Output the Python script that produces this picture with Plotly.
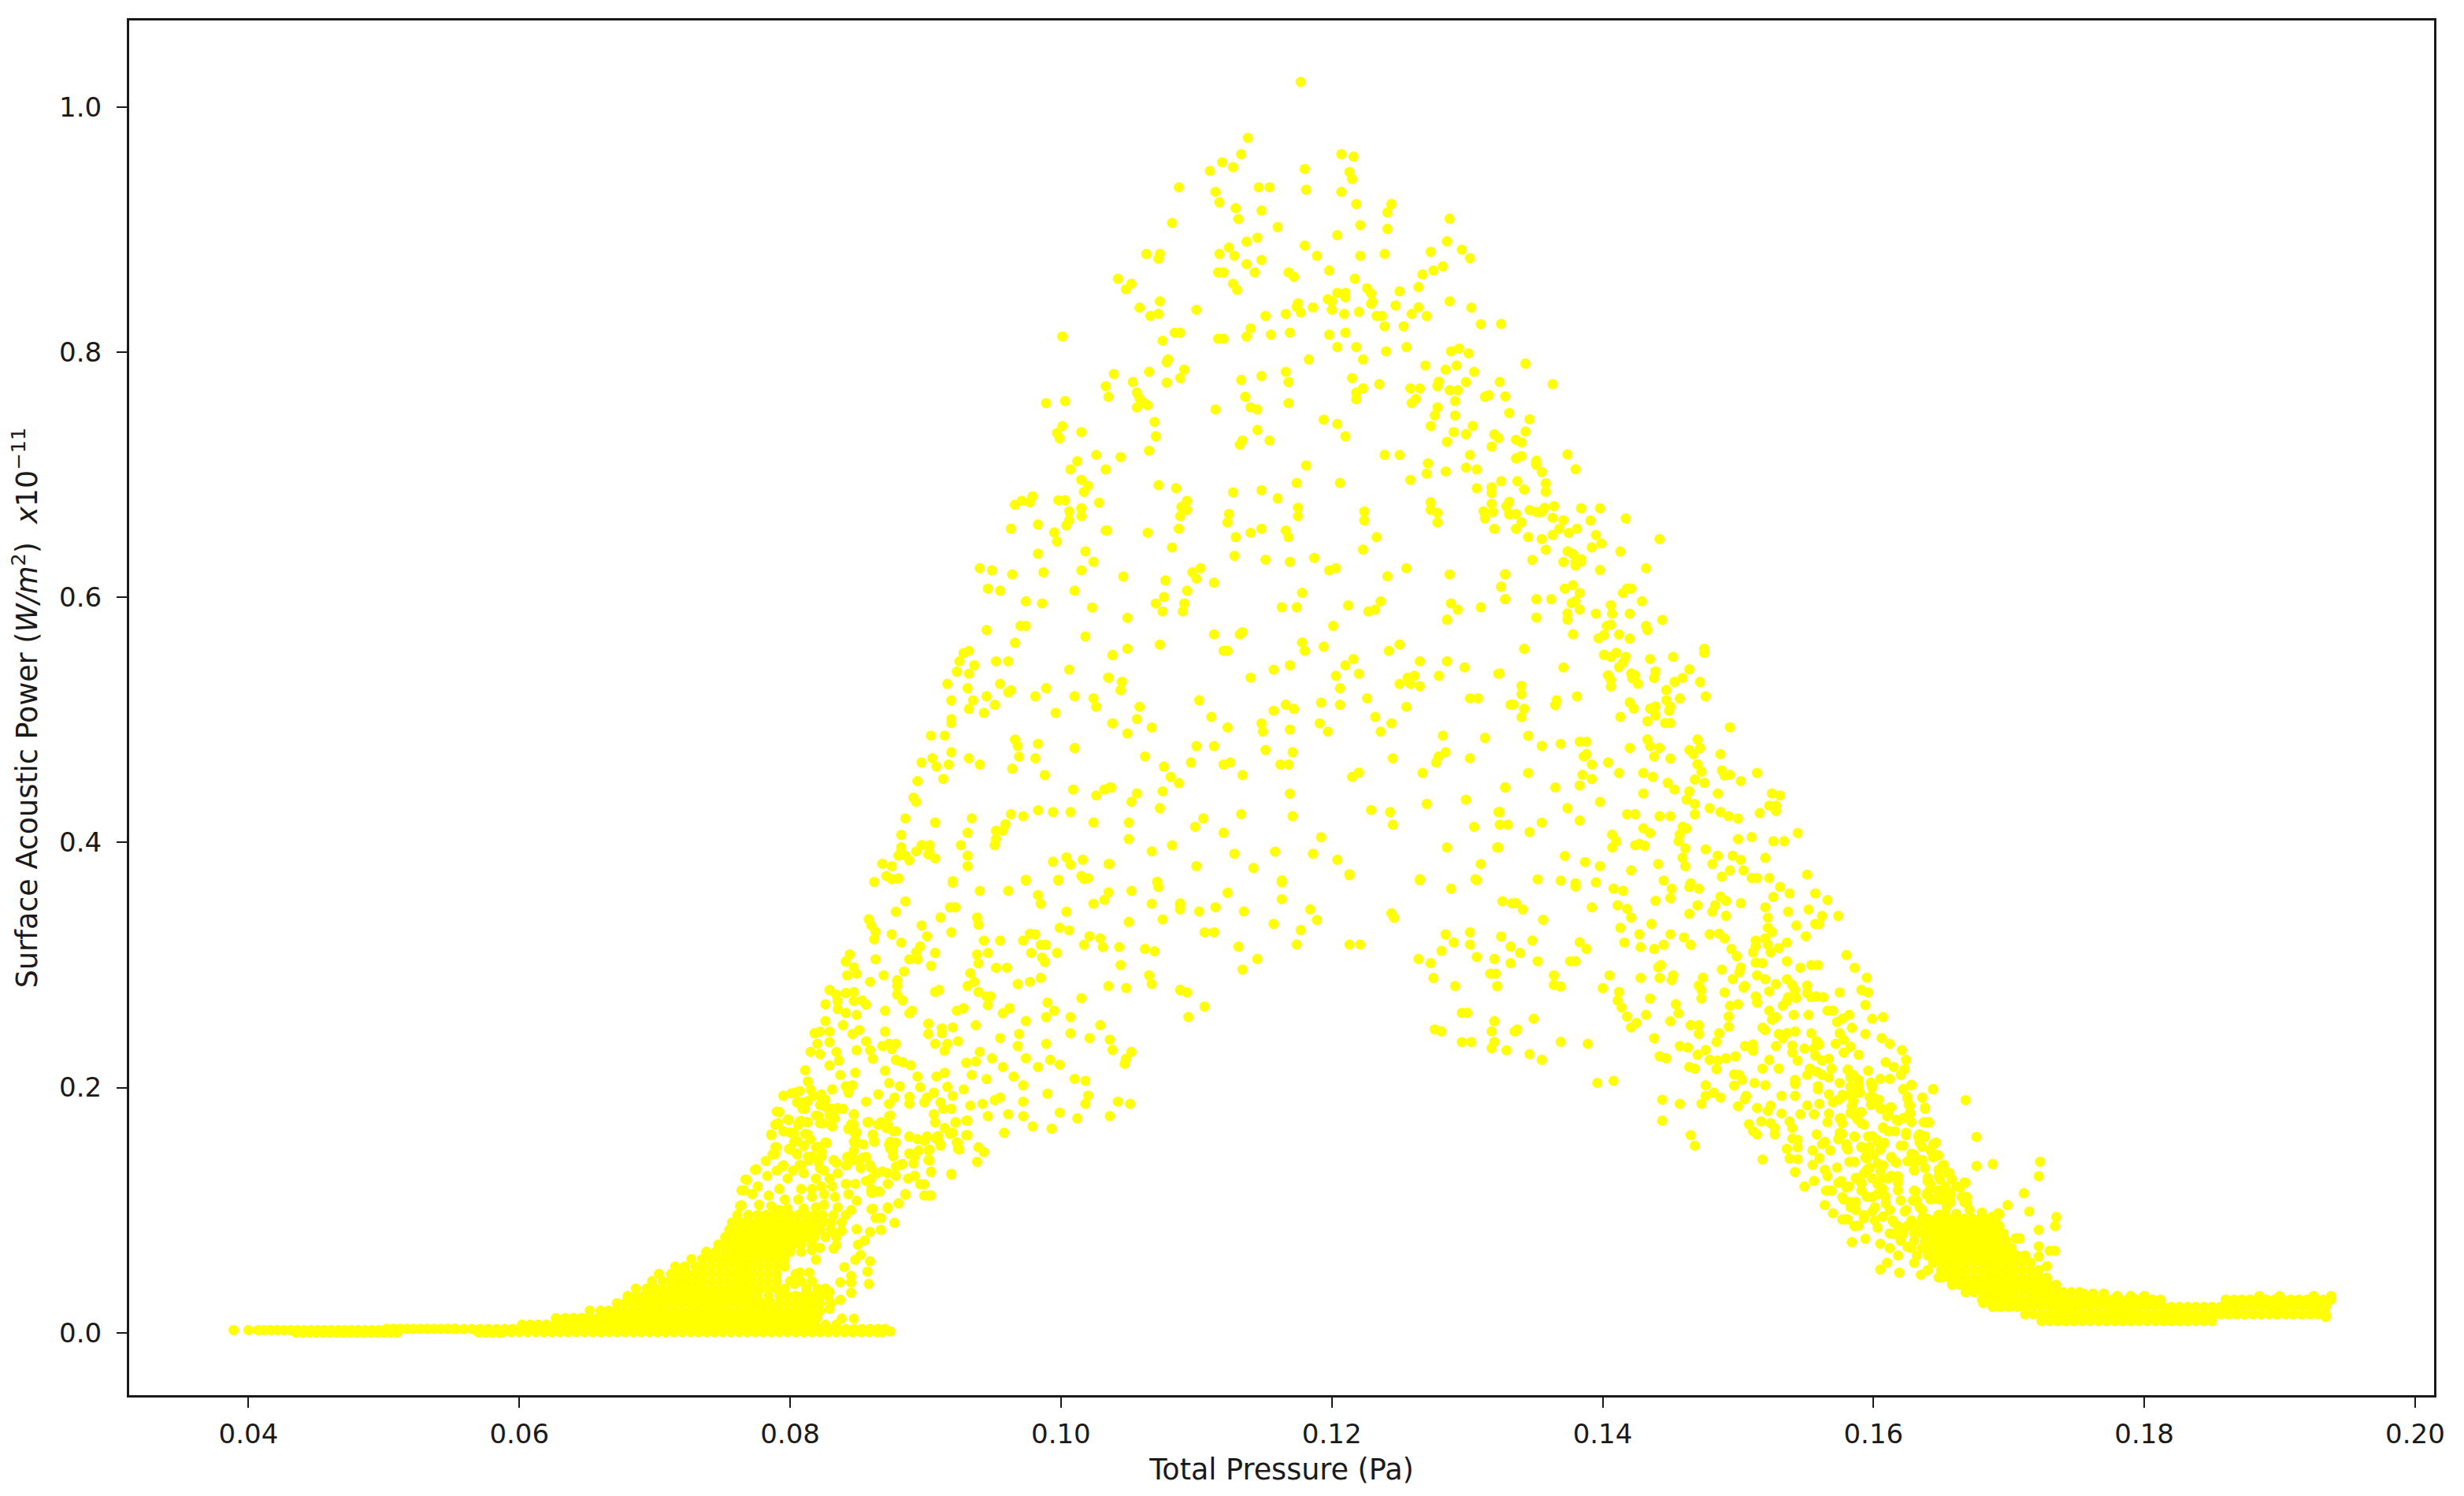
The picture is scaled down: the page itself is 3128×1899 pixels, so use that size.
import plotly.graph_objects as go

x_ticks = [0.04, 0.06, 0.08, 0.10, 0.12, 0.14, 0.16, 0.18, 0.20]
y_ticks = [0.0, 0.2, 0.4, 0.6, 0.8, 1.0]

peak_points = [(.1177,1.0206),(.1138,.975),(.1133,.9616),(.1207,.9616),(.1216,.9596),(.1119,.955),(.1127,.951),(.1110,.948),(.1180,.9496),(.1213,.947),(.1215,.9412),(.1087,.9346),(.1146,.9346),(.1154,.9346),(.1181,.9326),(.1114,.9309),(.1207,.9309),(.1117,.9223),(.1218,.9210),(.1244,.921),(.1129,.9176),(.1148,.9156),(.1241,.9141),(.1131,.9087),(.1287,.9090),(.1082,.9055),(.1160,.9021),(.1221,.9038),(.1241,.9006),(.1204,.8955),(.1145,.8935),(.1137,.8903),(.1285,.8905),(.1180,.887),(.1124,.8854),(.1296,.8837),(.1063,.8802),(.1073,.8802),(.1072,.8763),(.1117,.8802),(.1128,.8787),(.1189,.8787),(.1221,.8787),(.1239,.8802),(.1273,.8819),(.1302,.8768),(.1137,.8719),(.1148,.8753),(.1282,.8701),(.1116,.8652),(.1120,.8652),(.1143,.8652),(.1168,.8652),(.1172,.8615),(.1198,.8667),(.1275,.8667),(.1267,.8635),(.1217,.8600),(.1042,.86),(.1052,.8559),(.1048,.8514),(.1127,.8559),(.1130,.851),(.1226,.8522),(.1229,.848),(.1264,.8532),(.1250,.8497),(.1204,.8485),(.1210,.8485),(.1210,.8448),(.1197,.8433),(.1200,.8416),(.1073,.8416),(.1287,.8416),(.1175,.8399),(.1174,.837),(.1186,.8365),(.1230,.8411),(.1229,.8395),(.1247,.8382),(.1264,.8367),(.1303,.8364),(.1058,.8364),(.1200,.8347),(.1220,.8330),(.1177,.8325),(.1100,.8347),(.1072,.8313),(.1066,.8296),(.1209,.8313),(.1259,.8313),(.1270,.8296),(.1166,.8313),(.1151,.8296),(.1233,.8296),(.1237,.8296),(.1310,.8229),(.1239,.8212),(.1253,.8212),(.1140,.8195),(.1084,.816),(.1088,.816),(.1001,.8128),(.1137,.8128),(.1155,.8143),(.1169,.816),(.1198,.8143),(.1210,.816),(.1116,.811),(.1120,.811),(.1075,.8094),(.1204,.8042),(.1218,.8042),(.1255,.8042),(.1240,.8008),(.1288,.8008),(.1294,.803),(.1301,.7991),(.1183,.7941),(.1079,.7941),(.1078,.7919),(.1223,.7941),(.1269,.7892),(.1292,.7892),(.1284,.7858),(.1039,.7823),(.1065,.784),(.1091,.7858),(.1088,.7789),(.1166,.784),(.1148,.7806),(.1305,.784),(.1053,.7757),(.1078,.7752),(.1133,.7774),(.1168,.7757),(.1215,.7789),(.1235,.774),(.1279,.776),(.1299,.7757),(.1033,.7723),(.1223,.7705),(.1218,.7671),(.1258,.7705),(.1265,.7705),(.1278,.7723),(.1287,.769),(.1293,.769),(.1056,.7671),(.1058,.7624),(.1061,.7587),(.1035,.7637),(.1136,.7637),(.1218,.7617),(.1313,.7637),(.1316,.765),(.1262,.762),(.1259,.7585),(.1064,.7568),(.1056,.755),(.1291,.7602),(.1003,.7602),(.0989,.7585),(.1114,.7533),(.1140,.755),(.1145,.7533),(.1168,.7585),(.1278,.755),(.1276,.7484),(.1291,.7484),(.1069,.7432),(.1194,.745),(.1204,.7415),(.1273,.7398),(.1304,.7398),(.1001,.7398),(.0997,.7341),(.1015,.7349),(.0999,.7297),(.1070,.7314),(.1145,.7366),(.1210,.7314),(.1290,.7349),(.1299,.7332),(.1320,.733),(.1285,.727),(.1134,.728),(.1132,.7246),(.1154,.728),(.1065,.7196),(.1318,.723),(.1026,.7162),(.1044,.7145),(.1012,.7111),(.1007,.7044),(.1033,.7044),(.1239,.7162),(.1250,.7162),(.1302,.7162),(.1271,.7093),(.1270,.701),(.1299,.7059),(.1307,.7044),(.1284,.7027),(.1181,.7076),(.1015,.6958),(.1020,.6909),(.1017,.686),(.1072,.6916),(.1085,.6891),(.1127,.6857),(.1148,.6874),(.1174,.6933),(.1206,.6933),(.1258,.6958),(.1160,.6808),(.1307,.6891),(.1318,.6899),(.1318,.685),(.0979,.6825),(.0971,.6788),(.0977,.6776),(.0966,.6756),(.0998,.6793),(.1003,.6793),(.1028,.6773),(.1093,.6788),(.1089,.6739),(.1273,.6776),(.1318,.6764),(.1312,.6702),(.1175,.6732),(.1006,.6702),(.1015,.6727),(.1278,.669),(.1124,.668),(.1224,.670)]

left_flank_points = [(.0963,.656),(.0983,.6594),(.1006,.663),(.1004,.6587),(.1015,.6662),(.1033,.6545),(.0995,.653),(.0997,.6455),(.0983,.6356),(.1018,.6375),(.1024,.629),(.0940,.6238),(.0949,.6221),(.0964,.6187),(.0987,.6204),(.1015,.6221),(.0946,.6071),(.0955,.6054),(.1010,.6054),(.0974,.5968),(.0986,.5951),(.1023,.5917),(.0945,.5733),(.0970,.5767),(.0974,.5767),(.1018,.5681),(.0966,.563),(.0932,.5563),(.0928,.5546),(.0925,.5478),(.0936,.5446),(.0923,.5394),(.0932,.5377),(.0952,.5478),(.0961,.5478),(.1038,.5529),(.1006,.5411),(.1035,.5345),(.0916,.5294),(.0931,.5259),(.0955,.5294),(.0963,.5242),(.0961,.5225),(.0989,.5259),(.0981,.5193),(.1010,.5193),(.1024,.5176),(.1026,.5107),(.0919,.5159),(.0935,.5159),(.0945,.5193),(.0951,.5124),(.0932,.509),(.0943,.5058),(.0996,.5058),(.0919,.5007),(.0919,.4974),(.1038,.4972),(.0904,.4872),(.0914,.4872),(.0966,.484),(.0968,.4788),(.0983,.4805),(.1010,.477),(.0919,.4737),(.0905,.4687),(.0932,.4687),(.0969,.47),(.0981,.4687),(.0897,.4653),(.0908,.4619),(.0917,.4636),(.0940,.4636),(.0964,.4602),(.0988,.455),(.0894,.4501),(.0913,.4518),(.1009,.4432),(.1032,.4432),(.1037,.4449),(.1026,.4383),(.0891,.4366),(.0893,.4332),(.0885,.4197),(.0934,.4197),(.0907,.4163),(.0963,.4231),(.0972,.4214),(.0983,.4263),(.0994,.4248),(.1007,.4248),(.1024,.4163),(.0959,.4148),(.0957,.4096),(.0952,.4096),(.0931,.4079),(.0882,.4062),(.0952,.4028),(.0951,.3978),(.0926,.3978),(.0897,.3978),(.0903,.3978),(.0882,.3961),(.0893,.3927),(.0882,.3927),(.0903,.3927),(.0880,.3893),(.0885,.3893),(.0902,.3903),(.0907,.3871),(.0888,.3854),(.0931,.3893),(.0931,.3807),(.0868,.3826),(.0875,.3807),(.0994,.3843),(.1004,.3878),(.1007,.3820),(.1016,.3859),(.1035,.3824),(.1015,.3726),(.1020,.3708),(.0974,.3696),(.0998,.3696),(.0920,.3685),(.0871,.3726),(.0880,.3708),(.0875,.37),(.0862,.3678)]

centre_points = [(.1093,.6714),(.1088,.6662),(.1123,.6611),(.1175,.6662),(.1224,.6628),(.1273,.6714),(.1278,.6611),(.1313,.6645),(.1319,.6697),(.1331,.6677),(.1329,.6742),(.1034,.6545),(.1064,.6527),(.1087,.656),(.1148,.656),(.1140,.6527),(.1166,.6545),(.1168,.6491),(.1129,.6491),(.1233,.6491),(.1320,.656),(.1082,.6407),(.1223,.639),(.1128,.6339),(.1151,.6307),(.1169,.629),(.1187,.6322),(.1203,.6238),(.1198,.6221),(.1255,.6238),(.1241,.6172),(.1287,.6187),(.1328,.6187),(.1046,.617),(.1077,.6138),(.1103,.6238),(.1097,.6204),(.1100,.6153),(.1113,.6120),(.1325,.6086),(.1093,.6054),(.1178,.6037),(.1076,.6003),(.1070,.5951),(.1091,.5951),(.1075,.5885),(.1090,.5885),(.1163,.5919),(.1174,.5919),(.1212,.5934),(.1236,.5968),(.1232,.59),(.1227,.5885),(.1288,.5951),(.1293,.59),(.1310,.5919),(.1328,.5985),(.1049,.5833),(.1201,.5767),(.1285,.5818),(.1113,.5698),(.1134,.5716),(.1132,.5698),(.1049,.5581),(.1073,.5615),(.1120,.5563),(.1123,.5563),(.1178,.5632),(.1180,.5563),(.1194,.5598),(.1250,.5615),(.1242,.5563),(.1038,.5529),(.1216,.5497),(.1210,.5446),(.1169,.5446),(.1265,.5478),(.1285,.5478),(.1298,.5428),(.1157,.5411),(.1203,.536),(.1220,.5377),(.1323,.5377),(.1035,.5345),(.1045,.5311),(.1140,.5345),(.1256,.5345),(.1261,.536),(.1279,.536),(.1250,.5294),(.1258,.5294),(.1265,.5276),(.1044,.5242),(.1206,.5259),(.1226,.5176),(.1302,.5176),(.1308,.5176),(.1102,.5159),(.1166,.5124),(.1172,.509),(.1157,.5075),(.1192,.5141),(.1206,.5124),(.1255,.5107),(.1332,.5124),(.1058,.5107),(.1056,.5007),(.1038,.4972),(.1111,.5024),(.1148,.4972),(.1191,.4972),(.1232,.5024),(.1244,.4972),(.1067,.4938),(.1123,.4938),(.1169,.4921),(.1049,.4889),(.1149,.4904),(.1197,.4904),(.1236,.4904),(.1282,.4872),(.1313,.4854),(.1100,.4786),(.1113,.4786),(.1151,.4754),(.1171,.4737),(.1284,.4737),(.1279,.4702),(.1062,.4702),(.1245,.4687),(.1302,.4687),(.1096,.4653),(.1277,.4653),(.1125,.4653),(.1120,.4636),(.1162,.4636),(.1168,.4636),(.1076,.4619),(.1220,.457),(.1215,.4535),(.1134,.455),(.1267,.4567),(.1081,.4535),(.1087,.4484),(.1036,.4449),(.1328,.4449),(.1075,.4417),(.1056,.44),(.1169,.4398),(.1052,.4332),(.1299,.4349),(.1270,.4315),(.1073,.428),(.1229,.4265),(.1243,.4248),(.1323,.4248),(.1133,.4231),(.1171,.4214),(.1105,.4197),(.1050,.4163),(.1245,.4145),(.1330,.4145),(.1099,.4128),(.1305,.4128),(.1120,.4079),(.1192,.4043),(.1050,.4028),(.1082,.3976),(.1285,.3959),(.1322,.3959),(.1067,.3927),(.1158,.3925),(.1128,.3908),(.1186,.3908),(.1204,.3859),(.1310,.3824),(.1036,.3824),(.1100,.3807),(.1142,.3792),(.1213,.3741),(.1163,.369),(.1265,.37),(.1306,.37),(.1071,.368)]

centre_low_points = [(.1163,.3674),(.1213,.3732),(.1265,.3692),(.1307,.3692),(.1288,.3623),(.1123,.3589),(.1163,.3537),(.1326,.3520),(.1333,.3503),(.1088,.3503),(.1088,.3454),(.1114,.3471),(.1102,.3437),(.1135,.3437),(.1184,.3454),(.1189,.3368),(.1244,.3422),(.1246,.3385),(.1157,.3336),(.1106,.3267),(.1113,.3267),(.1177,.3285),(.1302,.3267),(.1284,.325),(.1325,.3233),(.1131,.315),(.1174,.3167),(.1213,.3167),(.1221,.3167),(.1290,.3184),(.1302,.3167),(.1332,.315),(.1281,.3115),(.1145,.3049),(.1264,.3049),(.1307,.3066),(.1320,.3049),(.1273,.3015),(.1332,.3015),(.1134,.2963),(.1317,.2929),(.1321,.2929),(.1275,.2895),(.1291,.2828),(.1322,.2828),(.1088,.2794),(.1093,.2777),(.1106,.2661),(.1094,.2576),(.1296,.2610),(.1300,.261),(.1320,.2541),(.1276,.2475),(.1281,.2458),(.1318,.2458),(.1296,.2372),(.1303,.2372),(.1320,.2372),(.1318,.2321),(.1329,.2304),(.1335,.2458)]

right_upper_points = [(.1325,.8231),(.1343,.7907),(.1324,.7758),(.1363,.7740),(.1328,.7640),(.1331,.7505),(.1346,.7453),(.1343,.7353),(.1336,.7286),(.1340,.7265),(.1323,.7301),(.1374,.7166),(.1340,.7153),(.1336,.7134),(.1351,.7115),(.1351,.7083),(.1355,.7023),(.1380,.7046),(.1325,.6948),(.1337,.6948),(.1358,.6931),(.1342,.688),(.1358,.6862),(.1331,.6779),(.1329,.6744),(.1346,.6712),(.1351,.6697),(.1355,.6697),(.1357,.6729),(.1364,.6744),(.1384,.6727),(.1398,.6727),(.1331,.6680),(.1336,.668),(.1363,.665),(.1417,.6644),(.1371,.6629),(.1391,.6627),(.1340,.6612),(.1336,.6560),(.1368,.656),(.1381,.656),(.1375,.6526),(.1363,.6509),(.1395,.6509),(.1345,.6492),(.1355,.6475),(.1442,.6475),(.1399,.6440),(.1392,.6408),(.1358,.6389),(.1413,.6374),(.1374,.6376),(.1378,.6355),(.1384,.6312)]

right_middle_points = [(.1348,.6306),(.1371,.6289),(.1380,.6291),(.1384,.6291),(.1380,.6259),(.1398,.6223),(.1432,.6238),(.1328,.6189),(.1325,.6088),(.1372,.6071),(.1378,.6099),(.1383,.6036),(.1421,.6071),(.1418,.6071),(.1415,.6036),(.1328,.5985),(.1351,.5985),(.1362,.5985),(.1380,.597),(.1377,.5953),(.1429,.5968),(.1406,.5936),(.1383,.5901),(.1374,.5869),(.1395,.5867),(.1407,.5867),(.1420,.5867),(.1351,.5835),(.1374,.5818),(.1444,.5816),(.1432,.5767),(.1406,.5777),(.1403,.5767),(.1433,.5734),(.1378,.5698),(.1412,.5698),(.1401,.5692),(.1397,.5666),(.1420,.5664),(.1342,.558),(.1475,.558),(.1475,.5548),(.1401,.5531),(.1406,.5514),(.1410,.5548),(.1417,.5514),(.1435,.5497),(.1452,.5514),(.1415,.5467),(.1412,.543),(.1371,.5428),(.1464,.5413),(.1324,.5379),(.1439,.5396),(.1404,.5364),(.1421,.5379),(.1424,.5364),(.1422,.5338),(.1459,.5342),(.1438,.5342),(.1453,.531),(.1472,.531),(.1406,.5327),(.1426,.5295),(.1340,.5278),(.1406,.5272),(.1447,.5244),(.1340,.521),(.1381,.5192),(.1476,.5192),(.1366,.516),(.1457,.5175),(.1447,.516),(.1420,.5143),(.1334,.5126),(.1365,.512),(.1439,.5109),(.1435,.5092),(.1450,.5109),(.1423,.5092),(.1342,.5092),(.1449,.5075),(.1439,.5036),(.1413,.5025),(.1340,.5023),(.1433,.4989),(.1446,.4974),(.1450,.4974),(.1494,.494),(.1345,.4871),(.1433,.4841),(.1470,.4841),(.1383,.4822),(.1388,.4822),(.1369,.4805),(.1355,.4788),(.1435,.4788),(.1442,.4771),(.1420,.4771),(.1464,.4755),(.1472,.4771),(.1467,.4721),(.1487,.4721),(.1388,.4721),(.1386,.4702),(.1438,.4702),(.1450,.4685),(.1404,.4653),(.1470,.4638),(.1392,.4636),(.1473,.4578),(.1345,.4567),(.1412,.4567),(.1430,.4567),(.1514,.4567),(.1488,.4588),(.1385,.4552),(.1490,.4546),(.1494,.4552),(.1437,.4535),(.1392,.4518),(.1502,.4501),(.1468,.4513),(.1448,.4486),(.1475,.4486),(.1383,.4466),(.1328,.4449),(.1365,.4449),(.1453,.4432),(.1464,.4417),(.1430,.44),(.1485,.44),(.1525,.44),(.1531,.4383),(.1398,.4331),(.1462,.4349),(.1468,.4314),(.1523,.43),(.1528,.43),(.1516,.424),(.1374,.428),(.1479,.428),(.1324,.4248),(.1487,.4248),(.1528,.4257),(.1418,.423),(.1424,.423),(.1468,.423),(.1493,.4214),(.1442,.4214),(.1450,.4214),(.1500,.4196),(.1383,.4179),(.1355,.4162),(.1324,.4145),(.1346,.4085),(.1430,.4115),(.1459,.4128),(.1462,.4115),(.1435,.4077),(.1407,.4064),(.1544,.4077),(.1500,.4027),(.1510,.4044),(.1526,.401),(.1534,.401),(.1457,.4064),(.1456,.401),(.1410,.401),(.1427,.3988),(.1424,.3977),(.1431,.3973),(.1407,.3959),(.1323,.3959),(.1461,.3952),(.1476,.3944),(.1485,.3892),(.1372,.3890),(.1496,.3892),(.1502,.3858),(.1520,.3875),(.1459,.3875),(.1387,.3841),(.1481,.3824),(.1398,.3807),(.1441,.3824),(.1461,.3807),(.1421,.3772),(.1494,.3772),(.1504,.3772),(.1488,.3721),(.1551,.3738),(.1352,.3699),(.1369,.3689),(.1523,.371),(.1510,.371),(.1514,.371),(.1445,.3689),(.1395,.3674),(.1380,.3667),(.1465,.3667)]

left_lower_points = [(.0920,.3671),(.0940,.3605),(.0961,.3605),(.0974,.3689),(.0998,.3689),(.1017,.3702),(.1072,.3637),(.1052,.3605),(.0983,.3571),(.1035,.3592),(.1032,.3532),(.0985,.35),(.1024,.35),(.1067,.35),(.1088,.3492),(.0885,.3519),(.0918,.3471),(.0922,.3471),(.1004,.3435),(.0878,.3435),(.0911,.3388),(.0938,.3388),(.1075,.3372),(.1050,.3351),(.0858,.3374),(.0860,.3322),(.0897,.3322),(.0939,.333),(.0999,.3304),(.1006,.3283),(.0863,.3270),(.0919,.3267),(.0875,.3251),(.0901,.3235),(.0977,.3256),(.1021,.3235),(.0862,.3209),(.0943,.3199),(.0955,.3199),(.0972,.3199),(.0981,.3251),(.0882,.3183),(.1029,.3217),(.1017,.3165),(.0989,.3165),(.0985,.3165),(.1031,.3146),(.1043,.3146),(.1062,.3131),(.1069,.3112),(.0896,.3152),(.0893,.3104),(.0907,.3099),(.0938,.3086),(.0946,.3099),(.0978,.3099),(.0997,.3099),(.0986,.3060),(.0988,.3026),(.0844,.3086),(.0863,.3047),(.0841,.3028),(.0888,.3047),(.0894,.3047),(.0939,.3013),(.0904,.2994),(.1044,.2999),(.0952,.2978),(.0960,.2978),(.0847,.2981),(.0933,.2934),(.0884,.2947),(.0849,.2929),(.0842,.2916),(.0869,.2916),(.1065,.2916),(.0985,.2895),(.0936,.2863),(.0879,.2876),(.0859,.2863),(.0977,.2863),(.0968,.2845),(.1067,.2845),(.0931,.2829),(.0879,.2829),(.1035,.2829),(.1048,.2813),(.1088,.2797),(.0829,.2797),(.0939,.278),(.0841,.2771),(.0907,.278),(.0910,.2797),(.0879,.2758),(.0834,.2758),(.0847,.278),(.0945,.2745),(.0948,.2745),(.1015,.2729),(.0883,.2711),(.0853,.2711),(.0847,.2706),(.0835,.2706),(.0990,.2693),(.0946,.2672),(.0826,.2680),(.0856,.2677),(.0835,.2640),(.0928,.2648),(.0923,.2627),(.0962,.2648),(.0995,.2627),(.0870,.2627),(.0957,.2606),(.0841,.2609),(.0890,.2627),(.0888,.2606),(.0849,.2593),(.0989,.2575),(.1007,.2575),(.0826,.2543),(.0974,.2543),(.0902,.2522),(.0937,.2509),(.1029,.2509),(.0839,.2509),(.0912,.2483),(.0920,.2491),(.0818,.2443),(.0829,.2457),(.0822,.2457),(.0851,.247),(.0870,.2457),(.0969,.2438),(.1007,.2443),(.0902,.2438),(.0846,.2438),(.0912,.2443),(.0955,.2404),(.1021,.2404),(.1036,.2391),(.0924,.2378),(.0856,.2378),(.0829,.2370),(.0873,.2357),(.0878,.2357),(.0916,.2357),(.0907,.2357),(.0820,.2357),(.0989,.2357),(.0868,.2339),(.0968,.2339),(.0875,.2312),(.0849,.2305),(.0859,.2305),(.0914,.23),(.1038,.2307),(.1052,.2291),(.0815,.2291),(.0822,.2273),(.0834,.2291),(.0940,.2291),(.0949,.2239),(.0974,.2239),(.0861,.2234),(.0878,.2226),(.1048,.2234),(.0992,.2226),(.0836,.2221),(.0883,.2207),(.0930,.2202),(.0937,.2213),(.0889,.2181),(.0999,.2187),(.1047,.2194),(.0829,.2181),(.0957,.2168),(.0983,.2168),(.0811,.2142),(.0870,.2137),(.0848,.2121),(.0914,.2121),(.0908,.2090),(.0837,.2103),(.0894,.209),(.0934,.2103),(.0965,.209),(.0945,.2069),(.1010,.2071),(.1018,.2055),(.0813,.2050),(.0873,.2037),(.0972,.2019),(.0881,.2011),(.0841,.2011),(.0846,.2019),(.0896,.2003),(.0916,.2006),(.0831,.1985),(.0928,.1985),(.0843,.1958),(.0815,.1985),(.0804,.1958),(.0795,.1932),(.0865,.1945),(.0906,.1958),(.0901,.1919),(.0920,.1932),(.0990,.1951),(.1020,.1935),(.0955,.1919),(.0951,.1898),(.0822,.1932),(.0877,.1919),(.0888,.1924),(.0805,.1880),(.0810,.188),(.0856,.1885),(.0899,.188),(.0942,.1867),(.0911,.188),(.0972,.1885),(.0873,.1867),(.0933,.1854),(.1042,.1885),(.1018,.1867),(.1051,.1867),(.0824,.1854),(.0835,.1833),(.0809,.1827),(.0831,.1827),(.0919,.1827),(.0888,.1867),(.0913,.1827),(.0792,.1801),(.0847,.1783),(.0906,.1783),(.0873,.1767),(.0821,.1767),(.0946,.1767),(.0961,.1783),(.0972,.1767),(.0999,.1796),(.0829,.1775),(.0799,.1736),(.0931,.1730),(.1012,.1749),(.1036,.1767),(.0791,.1709),(.0813,.1717),(.0807,.1723),(.0824,.1709),(.0831,.1683),(.0867,.1717),(.0857,.1717),(.0907,.1717),(.0922,.1717),(.0845,.1701),(.0843,.1662),(.0871,.1670),(.0914,.1670),(.0979,.1683),(.0993,.1665),(.0795,.1644),(.0786,.1618),(.0803,.1631),(.0849,.1631),(.0878,.1644),(.0931,.1612),(.0958,.1631),(.0861,.1618),(.0888,.1599),(.0909,.1604),(.0813,.1618),(.0920,.1631),(.0878,.1552),(.0899,.1565),(.0908,.1578),(.0923,.1552),(.0939,.1513),(.0943,.1474),(.0924,.15),(.0874,.1500),(.0862,.1565),(.0849,.1552),(.0826,.1552),(.0819,.1513),(.0790,.1513),(.0789,.1460),(.0805,.1565),(.0810,.1526),(.0799,.15),(.0805,.146),(.0876,.1447),(.0888,.1460),(.0902,.1487),(.0911,.1526),(.0895,.1487),(.0847,.1487),(.0823,.1474),(.0782,.1400),(.0842,.1434),(.0856,.1434),(.0813,.1434),(.0938,.1395),(.0832,.1408),(.0851,.1408),(.0903,.1408),(.0919,.1290),(.0904,.1316),(.0774,.1329),(.0794,.1355),(.0807,.1368),(.0822,.1342),(.0842,.1368),(.0859,.1368),(.0881,.1368),(.0891,.1381),(.0868,.1316),(.0896,.1211),(.0899,.1119),(.0903,.1119),(.0885,.1127),(.0880,.1054),(.0872,.1015),(.0860,.1007),(.0867,.0936),(.0877,.0896),(.0863,.0936),(.0859,.0823),(.0867,.0839),(.0855,.0752),(.0850,.0718),(.0852,.0634),(.0848,.0595),(.0859,.0582),(.0857,.0498),(.0840,.0535),(.0845,.0464),(.0845,.0411),(.0858,.0398),(.0845,.0325),(.0837,.0411),(.0837,.0267),(.0829,.0333),(.0829,.0194),(.0838,.0115),(.0847,.0115),(.0814,.049),(.0807,.049),(.0803,.0398),(.0822,.0692),(.0816,.0674),(.0819,.0595),(.0834,.0713),(.0832,.0687),(.0832,.0818),(.0838,.0831),(.0849,.0844)]

left_dense_points = [(.0795,.1933),(.0801,.1954),(.0807,.1971),(.0806,.1879),(.0811,.1879),(.0813,.1890),(.0811,.1826),(.0817,.1933),(.0823,.1944),(.0826,.1901),(.0822,.1858),(.0827,.1836),(.0831,.1794),(.0839,.1826),(.0833,.1751),(.0790,.1804),(.0789,.1697),(.0798,.1740),(.0806,.1697),(.0808,.1729),(.0812,.1719),(.0819,.1772),(.0822,.1708),(.0830,.1697),(.0847,.1783),(.0843,.1665),(.0847,.1697),(.0848,.1622),(.0847,.1558),(.0858,.1719),(.0865,.1697),(.0872,.1697),(.0876,.1644),(.0874,.1772),(.0786,.1612),(.0795,.1644),(.0800,.1633),(.0811,.1622),(.0815,.1579),(.0810,.1526),(.0803,.1558),(.0789,.1515),(.0787,.1455),(.0800,.1494),(.0805,.1455),(.0821,.1515),(.0827,.1547),(.0823,.1440),(.0816,.1429),(.0834,.1387),(.0845,.1440),(.0854,.1536),(.0861,.1612),(.0862,.1558),(.0854,.1429),(.0874,.1558),(.0876,.1494),(.0876,.1440),(.0873,.1536),(.0888,.1601),(.0894,.1579),(.0901,.1601),(.0909,.159),(.0918,.1622),(.0911,.1536),(.0903,.1494),(.0888,.1462),(.0892,.1440),(.0902,.1408),(.0883,.1376),(.0878,.1355),(.0872,.1301),(.0872,.1215),(.0878,.1280),(.0887,.1258),(.0892,.128),(.0904,.1312),(.0899,.1211),(.0919,.1297),(.0885,.1130),(.0880,.1055),(.0904,.1119),(.0872,.1023),(.0861,.1012),(.0865,.1151),(.0860,.1140),(.0922,.1714),(.0930,.1729),(.0930,.1612),(.0924,.1547),(.0925,.1494),(.0775,.1333),(.0783,.1280),(.0768,.1247),(.0776,.1194),(.0764,.1162),(.0772,.1130),(.0777,.1044),(.0784,.1119),(.0763,.1033),(.0790,.1322),(.0795,.1365),(.0798,.1258),(.0792,.1172),(.0802,.1322),(.0808,.1365),(.0816,.1440),(.0810,.1301),(.0814,.1408),(.0821,.1387),(.0825,.1322),(.0819,.1258),(.0829,.1258),(.0835,.1301),(.0841,.1365),(.0847,.1408),(.0852,.1344),(.0860,.1344),(.0864,.1301),(.0860,.1258),(.0808,.1172),(.0816,.1172),(.0823,.1194),(.0831,.1194),(.0841,.1215),(.0848,.1215),(.0856,.1237),(.0860,.1172),(.0866,.1151),(.0786,.1033),(.0796,.1087),(.0806,.1087),(.0816,.1108),(.0825,.1130),(.0833,.1108),(.0843,.1130),(.0849,.1076),(.0825,.1044),(.0835,.1023),(.0845,.1001),(.0798,.1012),(.0810,.1012),(.0819,.1023),(.0792,.1001),(.0766,.1159),(.0767,.125),(.0764,.104)]

right_lower_points = [(.1380,.364),(.1408,.3623),(.1415,.3605),(.1451,.3623),(.1464,.3637),(.1471,.3623),(.1450,.3545),(.1336,.3505),(.1341,.3453),(.1392,.3471),(.1411,.3487),(.1418,.3458),(.1439,.3524),(.1470,.3487),(.1464,.3419),(.1487,.3558),(.1491,.3524),(.1483,.3487),(.1481,.3435),(.1491,.3401),(.1502,.3505),(.1526,.3555),(.1531,.3637),(.1538,.3584),(.1557,.3584),(.1566,.353),(.1520,.3471),(.1537,.3435),(.1552,.3453),(.1522,.3387),(.1562,.3401),(.1574,.3401),(.1356,.3369),(.1421,.3387),(.1436,.3335),(.1557,.3335),(.1543,.3322),(.1560,.3335),(.1413,.3304),(.1522,.3304),(.1525,.327),(.1427,.3251),(.1450,.3251),(.1460,.3225),(.1479,.3251),(.1486,.3256),(.1490,.3217),(.1348,.3199),(.1383,.3186),(.1416,.3183),(.1550,.3235),(.1520,.3217),(.1513,.3199),(.1465,.3165),(.1388,.3131),(.1428,.3146),(.1438,.3131),(.1445,.3165),(.1536,.3183),(.1513,.3152),(.1530,.3138),(.1522,.3165),(.1495,.3131),(.1511,.3104),(.1524,.3104),(.1339,.3099),(.1580,.3081),(.1499,.3073),(.1352,.3031),(.1376,.3031),(.1380,.3031),(.1536,.3031),(.1513,.3020),(.1518,.3015),(.1443,.2999),(.1441,.2981),(.1546,.2978),(.1554,.2999),(.1559,.2999),(.1586,.2978),(.1502,.2981),(.1488,.2963),(.1501,.2942),(.1364,.2916),(.1405,.2916),(.1428,.2895),(.1452,.2916),(.1474,.2897),(.1442,.2895),(.1451,.2876),(.1595,.2897),(.1496,.2884),(.1514,.2916),(.1520,.2884),(.1536,.2884),(.1364,.2837),(.1369,.2824),(.1528,.2845),(.1471,.2832),(.1505,.2829),(.1504,.2816),(.1540,.2837),(.1551,.2832),(.1542,.2797),(.1400,.2811),(.1591,.2797),(.1596,.2777),(.1575,.2777),(.1473,.2797),(.1412,.278),(.1490,.2777),(.1523,.2785),(.1551,.2771),(.1554,.2737),(.1563,.2737),(.1558,.2745),(.1543,.2732),(.1537,.2737),(.1435,.2727),(.1473,.2727),(.1513,.2745),(.1411,.2711),(.1514,.2693),(.1454,.268),(.1500,.268),(.1494,.2667),(.1414,.2653),(.1533,.2667),(.1594,.2674),(.1536,.2706),(.1566,.2627),(.1570,.2627),(.1523,.2627),(.1456,.2606),(.1528,.2575),(.1493,.2580),(.1541,.2593),(.1552,.2593),(.1582,.2593),(.1349,.2561),(.1418,.258),(.1432,.2593),(.1607,.2575),(.1599,.2561),(.1525,.2554),(.1577,.2561),(.1573,.2535),(.1450,.2541),(.1425,.2528),(.1421,.2491),(.1465,.2509),(.1471,.2509),(.1493,.2496),(.1518,.2488),(.1520,.2470),(.1542,.2457),(.1536,.2443),(.1584,.2488),(.1337,.2475),(.1486,.2443),(.1471,.2438),(.1530,.2438),(.1554,.2443),(.1575,.2443),(.1594,.2438),(.1533,.2404),(.1438,.2404),(.1558,.2378),(.1578,.2391),(.1606,.2404),(.1369,.2373),(.1389,.2357),(.1484,.2373),(.1540,.2344),(.1612,.2357),(.1505,.2339),(.1511,.2352),(.1528,.2339),(.1560,.2352),(.1572,.2357),(.1457,.2339),(.1463,.2326),(.1549,.2318),(.1556,.2318),(.1583,.2334),(.1476,.2307),(.1511,.23),(.1621,.2305),(.1346,.2273),(.1578,.2286),(.1589,.2268),(.1470,.2268),(.1540,.2286),(.1557,.226),(.1498,.2255),(.1442,.2255),(.1447,.2239),(.1491,.2239),(.1355,.2226),(.1479,.2226),(.1485,.2221),(.1523,.2226),(.1544,.2221),(.1562,.2221),(.1567,.2234),(.1624,.2226),(.1609,.2207),(.1484,.2150),(.1518,.2155),(.1530,.2155),(.1464,.2168),(.1468,.2155),(.1569,.2155),(.1615,.2168),(.1623,.215),(.1581,.2142),(.1553,.2155),(.1558,.2129),(.1596,.2137),(.1497,.2108),(.1501,.2103),(.1562,.2103),(.1551,.2103),(.1585,.2103),(.1620,.2103),(.1503,.2063),(.1542,.2063),(.1567,.2082),(.1589,.2063),(.1605,.2071),(.1612,.2071),(.1396,.2037),(.1408,.2055),(.1476,.2019),(.1512,.2037),(.1520,.2019),(.1497,.2016),(.1542,.2029),(.1575,.2037),(.1589,.2024),(.1599,.2024),(.1559,.2011),(.1589,.1985),(.1622,.1985),(.1559,.1985),(.1567,.1945),(.1482,.1958),(.1583,.1945),(.1590,.1958),(.1476,.1932),(.1487,.1919),(.1506,.1932),(.1532,.1932),(.1542,.1932),(.1577,.194),(.1600,.1919),(.1636,.1919),(.1625,.1924),(.1444,.1901),(.1457,.1867),(.1473,.1867),(.1505,.1906),(.1560,.1867),(.1570,.1880),(.1585,.1893),(.1599,.1867),(.1627,.1854),(.1500,.1848),(.1524,.1854),(.1551,.1854),(.1613,.1840),(.1638,.1827),(.1514,.1833),(.1522,.1809),(.1591,.1801),(.1605,.1827),(.1627,.1788),(.1567,.1788),(.1532,.1788),(.1546,.1783),(.1556,.1783),(.1585,.1783),(.1575,.1749),(.1610,.1767),(.1444,.1730),(.1517,.1723),(.1538,.1723),(.1566,.1717),(.1617,.1736),(.1637,.1717),(.1641,.1717),(.1508,.1701),(.1524,.1709),(.1591,.1709),(.1607,.1670),(.1577,.1709),(.1511,.1644),(.1527,.1670),(.1540,.167),(.1465,.1612),(.1575,.1631),(.1558,.1618),(.1586,.1599),(.1624,.1631),(.1514,.1618),(.1527,.1618),(.1599,.1604),(.1611,.1644),(.1634,.1618),(.1638,.1604),(.1540,.1584),(.1544,.1573),(.1564,.1557),(.1574,.1578),(.1646,.1552),(.1468,.1526),(.1562,.1539),(.1580,.1513),(.1591,.1513),(.1603,.1557),(.1622,.1526),(.1634,.1552),(.1544,.1513),(.1536,.15),(.1555,.1487),(.1568,.1487),(.1595,.1474),(.1642,.1487),(.1648,.1447),(.1628,.1460),(.1613,.1434),(.1518,.1413),(.1538,.1421),(.1544,.1416),(.1560,.1426),(.1582,.1395),(.1586,.1395),(.1595,.1421),(.1635,.1408),(.1616,.1395),(.1555,.1369),(.1603,.1381),(.1630,.1381),(.1652,.1369),(.1564,.1329),(.1573,.1347),(.1595,.1329),(.1542,.1311),(.1630,.1329),(.1648,.1329),(.1605,.1316),(.1656,.1303),(.1566,.1277),(.1618,.1277),(.1587,.1264),(.1556,.1238),(.1611,.1264),(.1640,.1264),(.1648,.1277),(.1658,.1251),(.1549,.1193),(.1574,.1224),(.1591,.1224),(.1603,.1211),(.1618,.1224),(.1668,.1224),(.1664,.1185),(.1642,.1211),(.1580,.1185),(.1565,.1159),(.1569,.1159),(.1591,.1159),(.1630,.1159),(.1607,.1172),(.1648,.1159),(.1656,.1146),(.1577,.1106),(.1599,.1106),(.1632,.1080),(.1669,.1106),(.1644,.1093),(.1654,.1106),(.1564,.1041),(.1583,.1067),(.1609,.1054),(.1620,.1080),(.1669,.1054),(.1570,.0975),(.1587,.1001),(.1599,.0988),(.1636,.1001),(.1623,.0988),(.1654,.1029),(.1577,.0923),(.1581,.0923),(.1593,.0936),(.1607,.0949),(.1648,.0962),(.1586,.0870),(.1603,.0857),(.1636,.0897),(.1615,.0897),(.1594,.0766),(.1584,.074),(.1605,.0726),(.1625,.0700),(.1615,.0805),(.1669,.0752),(.1605,.0516),(.1619,.049),(.1635,.0472),(.1648,.0451),(.1681,.0241),(.1691,.0215),(.1668,.1898),(.1676,.1597),(.1676,.1361),(.1688,.1376),(.1723,.1395),(.1722,.1277),(.1711,.1138),(.1699,.1041),(.1692,.0975),(.1715,.0988),(.1735,.0944),(.1734,.087),(.1722,.0839),(.1705,.077),(.1708,.077),(.1722,.0705),(.1730,.0668),(.1734,.0668),(.1722,.0621),(.1728,.0543),(.1644,.1985),(.1628,.2019)]

right_dense_points = [(.1581,.2148),(.1583,.2083),(.1589,.2051),(.1583,.2008),(.1588,.1965),(.1577,.1923),(.1584,.1923),(.1574,.1901),(.1598,.204),(.1599,.1998),(.1597,.1923),(.1604,.1901),(.1598,.1858),(.1606,.1826),(.1612,.1837),(.1611,.1783),(.1584,.1848),(.1583,.1794),(.1590,.1794),(.1588,.1741),(.1593,.1698),(.1576,.1751),(.1577,.1623),(.1575,.1601),(.1580,.1537),(.1581,.1494),(.1586,.1601),(.1607,.1676),(.1612,.1644),(.1618,.173),(.1622,.1751),(.1616,.1644),(.1624,.1612),(.1628,.1719),(.1627,.1794),(.1626,.1858),(.1625,.1912),(.1622,.1987),(.1628,.2023),(.1638,.1837),(.1639,.1715),(.1636,.1918),(.1644,.1987),(.1693,.0969),(.1667,.1226),(.1596,.1601),(.1603,.1569),(.1608,.1548),(.1591,.1516),(.1597,.1516),(.1605,.1494),(.1600,.1451),(.1594,.143),(.1620,.1526),(.1613,.143),(.1617,.1387),(.1611,.1259),(.1618,.1259),(.1607,.1366),(.1597,.1344),(.1606,.1259),(.1587,.1259),(.1591,.1216),(.1593,.1301),(.1599,.1259),(.1633,.1601),(.1638,.1601),(.1644,.1537),(.1636,.1516),(.1630,.1451),(.1625,.1398),(.1630,.1323),(.1636,.1409),(.1644,.143),(.1647,.1451),(.1638,.1344),(.1651,.1366),(.1655,.1301),(.1649,.1248),(.1640,.1237),(.1642,.1173),(.1653,.1194),(.1661,.1194),(.1649,.1152),(.1657,.1130),(.1665,.1109),(.1667,.1066),(.1657,.1066),(.1649,.1087),(.1642,.1087),(.1653,.0972),(.1639,.1130),(.1576,.1237),(.1582,.1194),(.1587,.1259),(.1578,.1087),(.1587,.1066),(.1595,.1109),(.1603,.113),(.1613,.1280),(.1618,.1162),(.1609,.1109),(.1631,.1152),(.1629,.1077),(.1634,.1023),(.1583,.1023),(.1593,.0959),(.1601,.1023),(.1612,.1002),(.1624,.1002),(.1636,.0937),(.1601,.0916),(.1614,.0916),(.1628,.0916),(.1644,.0916),(.1580,.0927),(.1589,.0873),(.1661,.0970),(.1671,.1002),(.1680,.0980),(.1688,.0948)]

left_mass_rows = [
 (.096,[.0761,.0769,.0776,.0782,.0788,.0794,.0800,.0806,.0812,.0818,.0824,.0832,.0841]),
 (.090,[.0757,.0764,.0770,.0776,.0782,.0788,.0794,.0800,.0806,.0812,.0818,.0824,.0830,.0838]),
 (.084,[.0755,.0762,.0768,.0774,.0780,.0786,.0792,.0798,.0804,.0810,.0816,.0822,.0830]),
 (.078,[.0752,.0758,.0764,.0770,.0776,.0782,.0788,.0794,.0800,.0806,.0812,.0818,.0826,.0834]),
 (.072,[.0747,.0754,.0760,.0766,.0772,.0778,.0784,.0790,.0796,.0802,.0808,.0816]),
 (.066,[.0738,.0745,.0752,.0758,.0764,.0770,.0776,.0782,.0788,.0794,.0800,.0808]),
 (.060,[.0727,.0735,.0742,.0748,.0754,.0760,.0766,.0772,.0778,.0784,.0790,.0796]),
 (.054,[.0715,.0722,.0730,.0736,.0742,.0748,.0754,.0760,.0766,.0772,.0778,.0784,.0790,.0796]),
 (.048,[.0703,.0712,.0718,.0724,.0730,.0736,.0742,.0748,.0754,.0760,.0766,.0772,.0778,.0784,.0790,.0804]),
 (.042,[.0698,.0706,.0712,.0718,.0724,.0730,.0736,.0742,.0748,.0754,.0760,.0766,.0772,.0778,.0784,.0790,.0800,.0808,.0816]),
 (.036,[.0686,.0694,.0700,.0706,.0712,.0718,.0724,.0730,.0736,.0742,.0748,.0754,.0760,.0766,.0772,.0778,.0784,.0790,.0796,.0812,.0820,.0826]),
 (.030,[.0680,.0686,.0692,.0698,.0704,.0710,.0716,.0722,.0728,.0734,.0740,.0746,.0752,.0758,.0764,.0770,.0776,.0784,.0792,.0798,.0804,.0810,.0816,.0822,.0828]),
 (.024,[.0672,.0678,.0684,.0690,.0696,.0702,.0708,.0714,.0720,.0726,.0732,.0738,.0744,.0750,.0756,.0762,.0768,.0774,.0780,.0786,.0792,.0798,.0804,.0810,.0816,.0822,.0830]),
 (.018,[.0652,.0660,.0666,.0672,.0678,.0684,.0690,.0696,.0702,.0708,.0714,.0720,.0726,.0732,.0738,.0744,.0750,.0756,.0762,.0768,.0774,.0780,.0786,.0792,.0798,.0804,.0810,.0816,.0822]),
 (.012,[.0627,.0634,.0640,.0646,.0652,.0658,.0664,.0670,.0676,.0682,.0688,.0694,.0700,.0706,.0712,.0718,.0724,.0730,.0736,.0742,.0748,.0754,.0760,.0766,.0772,.0778,.0784,.0790,.0796,.0802,.0808,.0814,.0820]),
 (.0065,[.0602,.0608,.0614,.0620,.0626,.0632,.0638,.0644,.0650,.0656,.0662,.0668,.0674,.0680,.0686,.0692,.0698,.0704,.0710,.0716,.0722,.0728,.0734,.0740,.0746,.0752,.0758,.0764,.0770,.0776,.0782,.0788,.0794,.0800,.0806,.0812,.0818,.0826,.0834]),
 (.0030,[.0553,.0559,.0565,.0571,.0577,.0583,.0589,.0595,.0601,.0607,.0613,.0619,.0625,.0631,.0637,.0643,.0649,.0655,.0661,.0667,.0673,.0679,.0685,.0691,.0697,.0703,.0709,.0715,.0721,.0727,.0733,.0739,.0745,.0751,.0757,.0763,.0769,.0775,.0781,.0787,.0793,.0799,.0805,.0811,.0817,.0823,.0829,.0835,.0841,.0847,.0853,.0859,.0865,.0870]),
 (.0005,[.0588,.0594,.0600,.0606,.0612,.0618,.0624,.0630,.0636,.0642,.0648,.0654,.0660,.0666,.0672,.0678,.0684,.0690,.0696,.0702,.0708,.0714,.0720,.0726,.0732,.0738,.0744,.0750,.0756,.0762,.0768,.0774,.0780,.0786,.0792,.0798,.0804,.0810,.0816,.0822,.0828,.0834,.0840,.0846,.0852,.0858,.0864,.0868]),
]

left_tail_rows = [
 (.0031,[.0502,.0507,.0512,.0517,.0522,.0527,.0532,.0537,.0542,.0547,.0552]),
 (.0021,[.0389,.0400,.0407,.0411,.0416,.0421,.0426,.0431,.0436,.0441,.0446,.0451,.0456,.0461,.0466,.0471,.0476,.0481,.0486,.0491,.0496,.0501]),
 (.0001,[.0435,.0440,.0445,.0450,.0455,.0460,.0465,.0470,.0475,.0480,.0485,.0490,.0495,.0500,.0505,.0510,.0570,.0575,.0580,.0585]),
 (.0010,[.0874]),
]

right_mass_rows = [
 (.093,[.1640,.1648,.1655,.1661,.1667,.1673,.1679,.1685,.1690]),
 (.087,[.1618,.1625,.1632,.1640,.1646,.1652,.1658,.1664,.1670,.1676,.1682,.1688,.1693]),
 (.081,[.1612,.1622,.1630,.1636,.1642,.1648,.1654,.1660,.1666,.1672,.1678,.1684,.1690,.1696]),
 (.075,[.1620,.1630,.1638,.1644,.1650,.1656,.1662,.1668,.1674,.1680,.1686,.1692,.1698]),
 (.069,[.1612,.1628,.1636,.1642,.1648,.1654,.1660,.1666,.1672,.1678,.1684,.1690,.1696,.1702]),
 (.063,[.1618,.1632,.1640,.1646,.1652,.1658,.1664,.1670,.1676,.1682,.1688,.1694,.1700,.1706,.1712]),
 (.057,[.1610,.1630,.1644,.1650,.1656,.1662,.1668,.1674,.1680,.1686,.1692,.1698,.1704,.1710,.1716]),
 (.051,[.1640,.1650,.1656,.1662,.1668,.1674,.1680,.1686,.1692,.1698,.1704,.1710,.1716,.1722]),
 (.045,[.1650,.1656,.1662,.1668,.1674,.1680,.1686,.1692,.1698,.1704,.1710,.1716,.1722,.1728]),
 (.039,[.1658,.1664,.1670,.1676,.1682,.1688,.1694,.1700,.1706,.1712,.1718,.1724,.1730,.1735]),
 (.033,[.1668,.1674,.1680,.1686,.1692,.1698,.1704,.1710,.1716,.1722,.1728,.1734,.1740,.1746,.1752]),
 (.027,[.1680,.1686,.1692,.1698,.1704,.1710,.1716,.1722,.1728,.1734,.1740,.1746,.1752,.1758,.1764,.1770,.1776,.1782,.1788,.1794,.1800,.1806,.1812,.1860,.1866,.1872,.1878,.1884,.1890,.1896,.1902,.1908,.1914,.1920,.1926,.1932,.1938]),
 (.021,[.1688,.1694,.1700,.1706,.1712,.1718,.1724,.1730,.1736,.1742,.1748,.1754,.1760,.1766,.1772,.1778,.1784,.1790,.1796,.1802,.1808,.1814,.1820,.1826,.1832,.1838,.1844,.1850,.1856,.1862,.1868,.1874,.1880,.1886,.1892,.1898,.1904,.1910,.1916,.1922,.1928,.1934]),
 (.015,[.1712,.1718,.1724,.1730,.1736,.1742,.1748,.1754,.1760,.1766,.1772,.1778,.1784,.1790,.1796,.1802,.1808,.1814,.1820,.1826,.1832,.1838,.1844,.1850,.1856,.1862,.1868,.1874,.1880,.1886,.1892,.1898,.1904,.1910,.1916,.1922,.1928,.1934]),
 (.0095,[.1724,.1730,.1736,.1742,.1748,.1754,.1760,.1766,.1772,.1778,.1784,.1790,.1796,.1802,.1808,.1814,.1820,.1826,.1832,.1838,.1844,.1850]),
 (.0128,[.1934]),
 (.0299,[.1938,.1925,.1900,.1885]),
 (.0320,[.1755,.1762,.1770]),
 (.0300,[.1780,.1790,.1800]),
]

point_groups = [peak_points, left_flank_points, centre_points, centre_low_points, right_upper_points,
                right_middle_points, left_lower_points, left_dense_points, right_lower_points, right_dense_points]
row_groups = [left_mass_rows, left_tail_rows, right_mass_rows]

pressure, power = [], []
for group in point_groups:
    for px, pw in group:
        pressure.append(px)
        power.append(pw)
for group in row_groups:
    for pw, xs in group:
        for px in xs:
            pressure.append(px)
            power.append(pw)

fig = go.Figure(go.Scatter(
    x=pressure, y=power, mode="markers",
    marker=dict(color="#FFFF00", size=13, line=dict(width=0)),
    showlegend=False, hoverinfo="skip",
))

axis_common = dict(
    showgrid=False, zeroline=False, showline=True, mirror=True,
    linecolor="#1a1a1a", linewidth=3, ticks="outside", ticklen=13,
    tickwidth=2, tickcolor="#1a1a1a",
    tickfont=dict(family="DejaVu Sans", size=34, color="#1a1a1a"),
)
fig.update_xaxes(
    range=[0.03119, 0.2014], tickvals=x_ticks, tickformat=".2f", ticklabelstandoff=4,
    title=dict(text="Total Pressure (Pa)", font=dict(family="DejaVu Sans", size=36.5, color="#1a1a1a"), standoff=14),
    **axis_common,
)
fig.update_yaxes(
    range=[-0.051, 1.0707], tickvals=y_ticks, tickformat=".1f", ticklabelstandoff=12,
    title=dict(text="Surface Acoustic Power (<i>W/m</i><sup>2</sup>)  <i>x</i>10<sup>−11</sup>",
               font=dict(family="DejaVu Sans", size=36.5, color="#1a1a1a"), standoff=20),
    **axis_common,
)
fig.update_layout(
    width=3112, height=1883, autosize=False,
    margin=dict(l=156, r=30, t=18, b=120, autoexpand=False),
    paper_bgcolor="white", plot_bgcolor="white",
)
fig.write_html("out.html")
